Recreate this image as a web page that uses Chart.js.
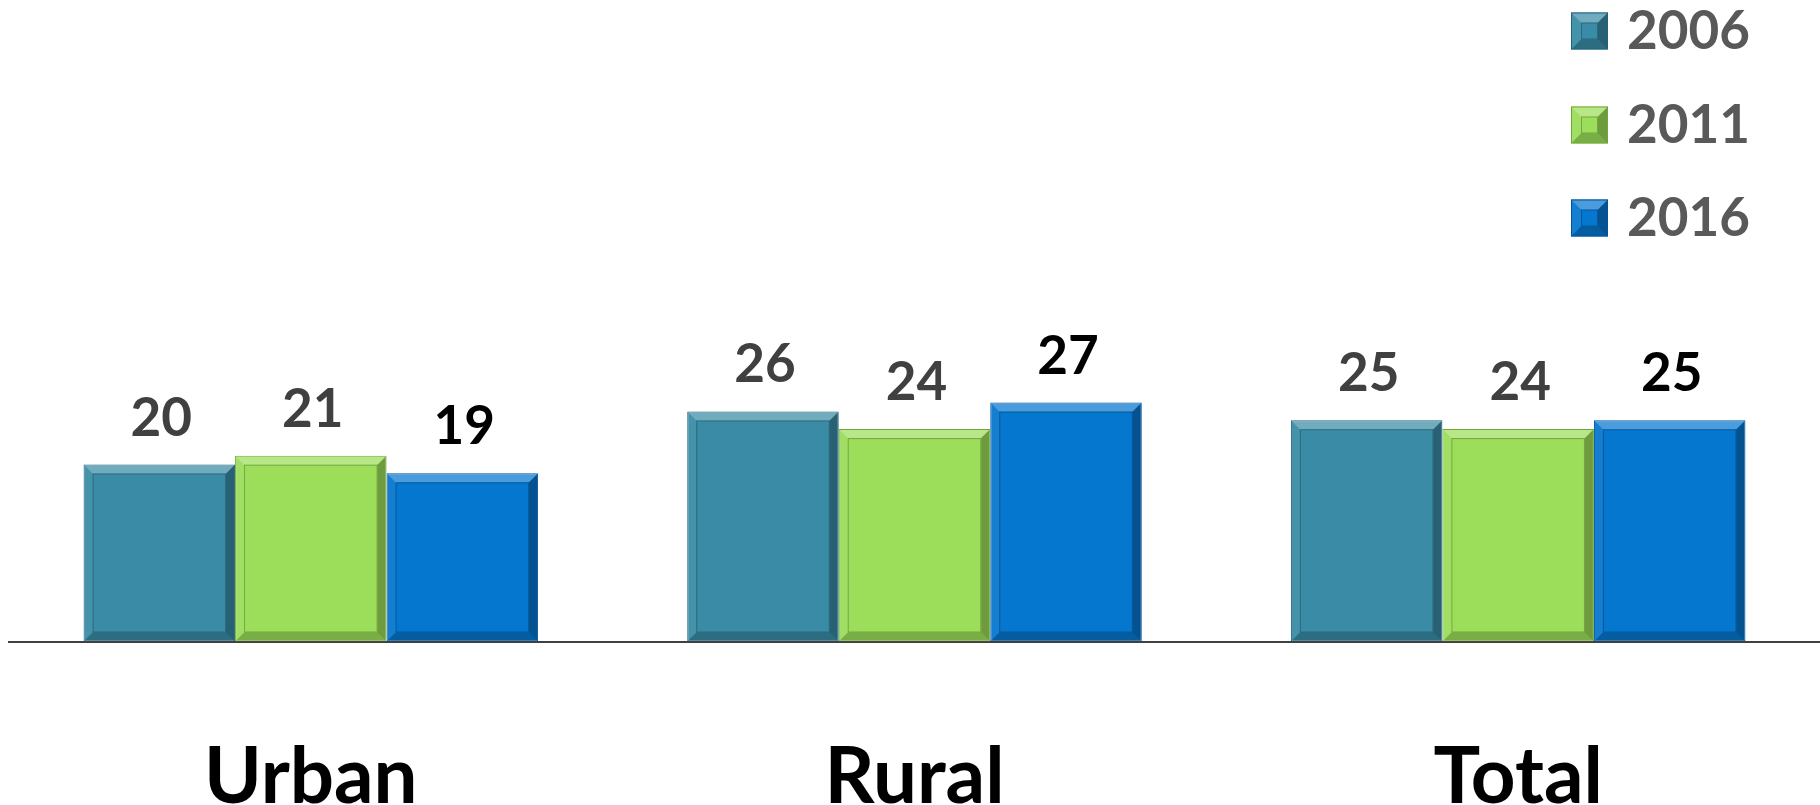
<!DOCTYPE html>
<html>
<head>
<meta charset="utf-8">
<script src="https://cdn.jsdelivr.net/npm/chart.js@4.4.1/dist/chart.umd.min.js"></script>
<style>
  html, body { margin: 0; padding: 0; background: #ffffff; overflow: hidden; }
  #wrap { position: relative; width: 1820px; height: 805px; }
</style>
</head>
<body>
<div id="wrap"><canvas id="c"></canvas></div>
<script>
const categories = ["Urban", "Rural", "Total"];
const seriesLabels = ["2006", "2011", "2016"];
const values2006 = [20, 26, 25];
const values2011 = [21, 24, 24];
const values2016 = [19, 27, 25];
const yMin = 0;
const yMax = 70;

const fills = ["#3A8CA6", "#9CDE5A", "#0677CF"];
const edges = ["#24607A", "#6FA63A", "#04539A"];
const valueColors = ["#404040", "#404040", "#000000"];

function bevel(ctx, x0, y0, x1, y1, b) {
  const ix0 = x0 + b, iy0 = y0 + b, ix1 = x1 - b, iy1 = y1 - b;
  const poly = (pts, col) => {
    ctx.beginPath();
    ctx.moveTo(pts[0][0], pts[0][1]);
    for (let i = 1; i < pts.length; i++) ctx.lineTo(pts[i][0], pts[i][1]);
    ctx.closePath();
    ctx.fillStyle = col;
    ctx.fill();
  };
  poly([[x0, y0], [x1, y0], [ix1, iy0], [ix0, iy0]], "rgba(255,255,255,0.28)");
  poly([[x0, y0], [ix0, iy0], [ix0, iy1], [x0, y1]], "rgba(255,255,255,0.06)");
  poly([[x1, y0], [x1, y1], [ix1, iy1], [ix1, iy0]], "rgba(0,0,0,0.30)");
  poly([[x0, y1], [ix0, iy1], [ix1, iy1], [x1, y1]], "rgba(0,0,0,0.22)");
  ctx.strokeStyle = "rgba(0,0,0,0.25)";
  ctx.lineWidth = 1;
  ctx.strokeRect(ix0 + 0.5, iy0 + 0.5, ix1 - ix0 - 1, iy1 - iy0 - 1);
}

const barDecor = {
  id: "barDecor",
  afterDatasetsDraw(chart) {
    const ctx = chart.ctx;
    ctx.save();
    chart.data.datasets.forEach((ds, di) => {
      const meta = chart.getDatasetMeta(di);
      meta.data.forEach((bar, i) => {
        const x0 = bar.x - bar.width / 2, x1 = bar.x + bar.width / 2;
        const y0 = bar.y, y1 = bar.base;
        bevel(ctx, x0 + 1, y0 + 1, x1 - 1, y1 - 1, 8);
        ctx.font = "bold 53px Lato";
        ctx.fillStyle = valueColors[di];
        ctx.textAlign = "center";
        ctx.textBaseline = "alphabetic";
        ctx.fillText(String(ds.data[i]), bar.x + 2, y0 - 29);
      });
    });
    // legend
    const lx = 1571, size = 37, rows = [31, 125, 218];
    chart.data.datasets.forEach((ds, di) => {
      const cy = rows[di];
      const y0 = cy - size / 2;
      ctx.fillStyle = fills[di];
      ctx.fillRect(lx, y0, size, size);
      ctx.strokeStyle = edges[di];
      ctx.lineWidth = 1;
      ctx.strokeRect(lx + 0.5, y0 + 0.5, size - 1, size - 1);
      bevel(ctx, lx + 1, y0 + 1, lx + size - 1, y0 + size - 1, 9);
      ctx.font = "bold 53px Lato";
      ctx.fillStyle = "#595959";
      ctx.textAlign = "left";
      ctx.textBaseline = "middle";
      ctx.fillText(ds.label, 1627, cy + 1);
    });
    ctx.restore();
  }
};

const datasetValues = [values2006, values2011, values2016];

new Chart(document.getElementById("c"), {
  type: "bar",
  data: {
    labels: categories,
    datasets: seriesLabels.map((lab, i) => ({
      label: lab,
      data: datasetValues[i],
      backgroundColor: fills[i],
      borderColor: edges[i],
      borderWidth: 1,
      borderSkipped: false,
      categoryPercentage: 0.753,
      barPercentage: 1.0
    }))
  },
  options: {
    responsive: true,
    maintainAspectRatio: false,
    devicePixelRatio: 1,
    animation: false,
    layout: { padding: { left: 9, right: 0, top: 22, bottom: 0 } },
    plugins: { legend: { display: false }, tooltip: { enabled: false } },
    scales: {
      x: {
        grid: { display: false },
        border: { display: true, color: "#404040", width: 2 },
        ticks: {
          color: "#000000",
          padding: 89,
          font: { family: "Lato", weight: "bold", size: 78, lineHeight: 1 }
        },
        afterFit(scale) { scale.height = 163.5; }
      },
      y: {
        display: false,
        min: yMin,
        max: yMax
      }
    }
  },
  plugins: [barDecor]
});
</script>
</body>
</html>
